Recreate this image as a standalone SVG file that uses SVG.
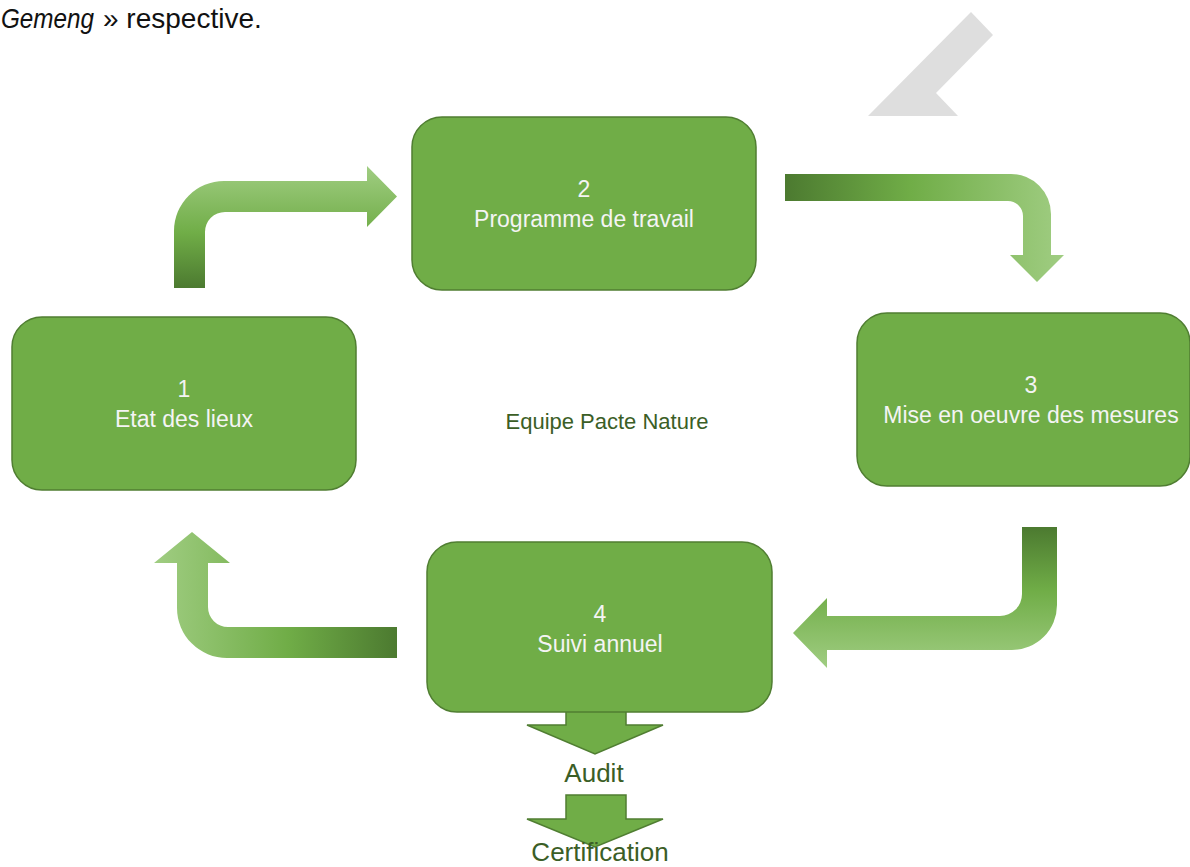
<svg xmlns="http://www.w3.org/2000/svg" width="1190" height="867" viewBox="0 0 1190 867">
<defs>
<style>
.box{fill:#70ad47;stroke:#507e32;stroke-width:1.5}
.bt{font-family:"Liberation Sans",Arial,sans-serif;font-size:23px;fill:#f4f4f4;text-anchor:middle}
.gt{font-family:"Liberation Sans",Arial,sans-serif;fill:#3b5e26;text-anchor:middle}
.blk{fill:#70ad47;stroke:#507e32;stroke-width:1.5}
</style>
<linearGradient id="g1" gradientUnits="userSpaceOnUse" x1="0" y1="288" x2="0" y2="166">
<stop offset="0" stop-color="#4c7a30"/><stop offset="0.45" stop-color="#70ad47"/><stop offset="1" stop-color="#a0cd82"/>
</linearGradient>
<linearGradient id="g2" gradientUnits="userSpaceOnUse" x1="785" y1="0" x2="1064" y2="0">
<stop offset="0" stop-color="#4c7a30"/><stop offset="0.45" stop-color="#70ad47"/><stop offset="1" stop-color="#a0cd82"/>
</linearGradient>
<linearGradient id="g3" gradientUnits="userSpaceOnUse" x1="0" y1="527" x2="0" y2="668">
<stop offset="0" stop-color="#4c7a30"/><stop offset="0.45" stop-color="#70ad47"/><stop offset="1" stop-color="#a0cd82"/>
</linearGradient>
<linearGradient id="g4" gradientUnits="userSpaceOnUse" x1="397" y1="0" x2="154" y2="0">
<stop offset="0" stop-color="#4c7a30"/><stop offset="0.45" stop-color="#70ad47"/><stop offset="1" stop-color="#a0cd82"/>
</linearGradient>
</defs>
<rect width="1190" height="867" fill="#ffffff"/>
<text y="28" font-family="Liberation Sans,Arial,sans-serif" font-size="28" fill="#111111"><tspan x="1" font-style="italic" textLength="93" lengthAdjust="spacingAndGlyphs">Gemeng</tspan><tspan x="103">» respective.</tspan></text>
<polygon points="971,12 993,35 936,93 958,116 868,116" fill="#dedede"/>
<g id="connectors">
<path d="M174,288 L174,231 A50,50 0 0 1 224,181 L367,181 L367,166 L397,196.5 L367,227 L367,212 L225,212 A20,20 0 0 0 205,232 L205,288 Z" fill="url(#g1)"/>
<path d="M785,174 L1011,174 A40,40 0 0 1 1051,214 L1051,255 L1064,255 L1037,282 L1010,255 L1023,255 L1023,216 A15,15 0 0 0 1008,201 L785,201 Z" fill="url(#g2)"/>
<path d="M1022,527 L1057,527 L1057,605 A45,45 0 0 1 1012,650 L827,650 L827,668 L793,633 L827,598 L827,616 L1000,616 A22,22 0 0 0 1022,594 Z" fill="url(#g3)"/>
<path d="M397,627 L228,627 A20,20 0 0 1 208,607 L208,563 L230,563 L192,532 L154,563 L177,563 L177,608 A50,50 0 0 0 227,658 L397,658 Z" fill="url(#g4)"/>
<polygon class="blk" points="566,700 626,700 626,725 663,725 595,754 527,725 566,725"/>
<polygon class="blk" points="566,795 626,795 626,819 663,819 595,847 527,819 566,819"/>
</g>
<g id="node1">
<rect class="box" x="12" y="317" width="344" height="173" rx="30"/>
<text class="bt" x="184" y="397">1</text>
<text class="bt" x="184" y="427">Etat des lieux</text>
</g>
<g id="node2">
<rect class="box" x="412" y="117" width="344" height="173" rx="30"/>
<text class="bt" x="584" y="197">2</text>
<text class="bt" x="584" y="227">Programme de travail</text>
</g>
<g id="node3">
<rect class="box" x="857" y="313" width="333" height="173" rx="30"/>
<text class="bt" x="1031" y="393">3</text>
<text class="bt" x="1031" y="423">Mise en oeuvre des mesures</text>
</g>
<g id="node4">
<rect class="box" x="427" y="542" width="345" height="170" rx="30"/>
<text class="bt" x="600" y="622">4</text>
<text class="bt" x="600" y="652">Suivi annuel</text>
</g>
<g id="center">
<text class="gt" x="607" y="429" font-size="22">Equipe Pacte Nature</text>
</g>
<g id="audit">
<text class="gt" x="594" y="782" font-size="26">Audit</text>
</g>
<g id="certification">
<text class="gt" x="600" y="861" font-size="26">Certification</text>
</g>
</svg>
